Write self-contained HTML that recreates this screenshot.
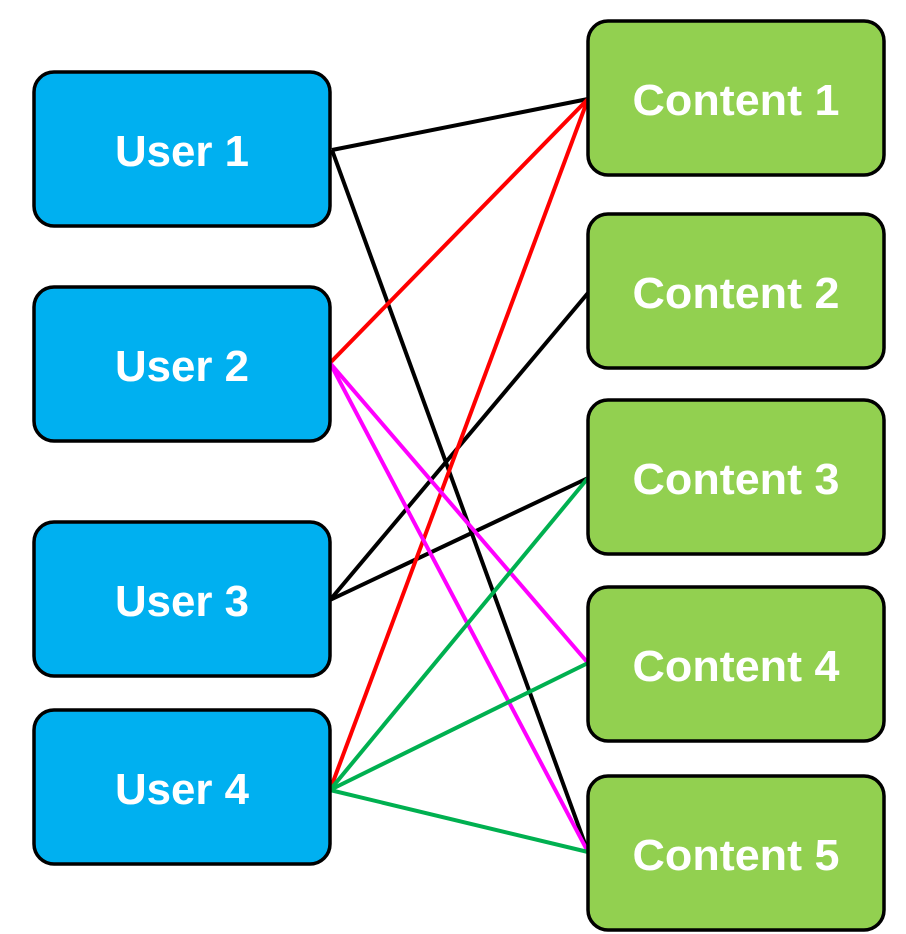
<!DOCTYPE html>
<html><head><meta charset="utf-8"><style>
html,body{margin:0;padding:0;background:#fff;width:906px;height:934px;overflow:hidden}
</style></head><body>
<svg width="906" height="934" xmlns="http://www.w3.org/2000/svg" style="display:block">
<g stroke-width="4" fill="none">
<line x1="332" y1="150" x2="588" y2="99" stroke="#000"/>
<line x1="332" y1="150" x2="588" y2="852" stroke="#000"/>
<line x1="330" y1="600" x2="588" y2="293" stroke="#000"/>
<line x1="330" y1="600" x2="588" y2="478" stroke="#000"/>
<line x1="330" y1="363" x2="588" y2="99" stroke="#ff0000"/>
<line x1="330" y1="790" x2="588" y2="99" stroke="#ff0000"/>
<line x1="330" y1="363" x2="588" y2="663" stroke="#ff00ff"/>
<line x1="330" y1="363" x2="588" y2="852" stroke="#ff00ff"/>
<line x1="330" y1="790" x2="588" y2="478" stroke="#00b050"/>
<line x1="330" y1="790" x2="588" y2="663" stroke="#00b050"/>
<line x1="330" y1="790" x2="588" y2="852" stroke="#00b050"/>
</g>
<g stroke="#000" stroke-width="3.5" fill="#00b0f0">
<rect x="34" y="72" width="296" height="154" rx="20"/>
<rect x="34" y="287" width="296" height="154" rx="20"/>
<rect x="34" y="522" width="296" height="154" rx="20"/>
<rect x="34" y="710" width="296" height="154" rx="20"/>
</g>
<g stroke="#000" stroke-width="3.5" fill="#92d050">
<rect x="588" y="21" width="296" height="154" rx="20"/>
<rect x="588" y="214" width="296" height="154" rx="20"/>
<rect x="588" y="400" width="296" height="154" rx="20"/>
<rect x="588" y="587" width="296" height="154" rx="20"/>
<rect x="588" y="776" width="296" height="154" rx="20"/>
</g>
<g fill="#fff" font-family="Liberation Sans, sans-serif" font-weight="bold" font-size="44" text-anchor="middle">
<text x="182" y="166" textLength="134" lengthAdjust="spacingAndGlyphs">User 1</text>
<text x="182" y="381" textLength="134" lengthAdjust="spacingAndGlyphs">User 2</text>
<text x="182" y="616" textLength="134" lengthAdjust="spacingAndGlyphs">User 3</text>
<text x="182" y="804" textLength="134" lengthAdjust="spacingAndGlyphs">User 4</text>
<text x="736" y="115" textLength="207" lengthAdjust="spacingAndGlyphs">Content 1</text>
<text x="736" y="308" textLength="207" lengthAdjust="spacingAndGlyphs">Content 2</text>
<text x="736" y="494" textLength="207" lengthAdjust="spacingAndGlyphs">Content 3</text>
<text x="736" y="681" textLength="207" lengthAdjust="spacingAndGlyphs">Content 4</text>
<text x="736" y="870" textLength="207" lengthAdjust="spacingAndGlyphs">Content 5</text>
</g>
</svg>
</body></html>
